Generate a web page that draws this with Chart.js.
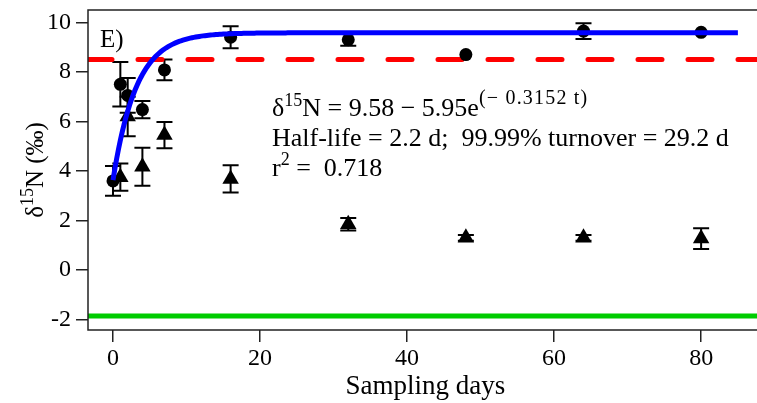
<!DOCTYPE html>
<html>
<head>
<meta charset="utf-8">
<script src="https://cdn.jsdelivr.net/npm/chart.js@4"></script>
<style>
  html, body { margin: 0; padding: 0; background: #fff; overflow: hidden; }
</style>
</head>
<body>
<canvas id="chart" width="757" height="403"></canvas>
<script>
// circles: sampling day, mean, half error bar
const circleDays = [0, 1, 2, 4, 7, 16, 32, 48, 64, 80];
const circleMean = [3.6, 7.5, 7.05, 6.48, 8.08, 9.4, 9.3, 8.7, 9.65, 9.6];
const circleErr  = [0.6, 0.9, 0.7, 0.35, 0.42, 0.44, 0.24, 0, 0.32, 0];

// triangles
const triDays = [1, 2, 4, 7, 16, 32, 48, 64, 80];
const triMean = [3.75, 6.2, 4.17, 5.45, 3.68, 1.85, 1.3, 1.3, 1.27];
const triErr  = [0.55, 0.8, 0.77, 0.53, 0.55, 0.25, 0.12, 0.12, 0.42];

// reference levels
const redLevel = 8.5;
const greenLevel = -1.85;

// fitted curve: d15N = A - B * exp(-k t)
const fitA = 9.58;
const fitB = 5.95;
const fitK = 0.3152;
const fitEnd = 85;

const xTicks = [0, 20, 40, 60, 80];
const yTicks = [-2, 0, 2, 4, 6, 8, 10];
const xMin = -3.4, xMax = 87.6;
const yMin = -2.42, yMax = 10.5;

const serif = '"Liberation Serif", "Times New Roman", serif';

const fitCurve = [];
for (let t = 0; t <= fitEnd; t += 0.25) {
  fitCurve.push({ x: t, y: fitA - fitB * Math.exp(-fitK * t) });
}

const toPoints = (xs, ys) => xs.map((x, i) => ({ x: x, y: ys[i] }));

// error bars under the points
const errorBars = {
  id: 'errorBars',
  beforeDatasetsDraw(chart) {
    const ctx = chart.ctx;
    const xs = chart.scales.x, ys = chart.scales.y;
    ctx.save();
    ctx.strokeStyle = '#000';
    ctx.lineWidth = 2;
    chart.data.datasets.forEach(ds => {
      if (!ds.err) return;
      ds.data.forEach((p, i) => {
        const e = ds.err[i];
        if (!e) return;
        const px = xs.getPixelForValue(p.x);
        const top = ys.getPixelForValue(p.y + e);
        const bot = ys.getPixelForValue(p.y - e);
        ctx.beginPath();
        ctx.moveTo(px, top); ctx.lineTo(px, bot);
        ctx.moveTo(px - 8, top); ctx.lineTo(px + 8, top);
        ctx.moveTo(px - 8, bot); ctx.lineTo(px + 8, bot);
        ctx.stroke();
      });
    });
    ctx.restore();
  }
};

function richWidth(ctx, parts) {
  let w = 0;
  parts.forEach(p => {
    ctx.font = p.size + 'px ' + serif;
    ctx.letterSpacing = (p.spacing || 0) + 'px';
    w += ctx.measureText(p.text).width;
  });
  ctx.letterSpacing = '0px';
  return w;
}

function drawRich(ctx, x, y, parts) {
  let cx = x;
  parts.forEach(p => {
    ctx.font = p.size + 'px ' + serif;
    ctx.letterSpacing = (p.spacing || 0) + 'px';
    ctx.fillText(p.text, cx, y - (p.rise || 0));
    cx += ctx.measureText(p.text).width;
  });
  ctx.letterSpacing = '0px';
}

// box, panel letter, equation text and axis titles
const decorations = {
  id: 'decorations',
  afterDraw(chart) {
    const ctx = chart.ctx;
    const a = chart.chartArea;
    ctx.save();
    ctx.strokeStyle = '#222';
    ctx.lineWidth = 1.5;
    ctx.beginPath();
    ctx.moveTo(chart.width, a.top);
    ctx.lineTo(a.left, a.top);
    ctx.lineTo(a.left, a.bottom);
    ctx.lineTo(chart.width, a.bottom);
    ctx.stroke();

    ctx.fillStyle = '#000';
    ctx.textBaseline = 'alphabetic';
    ctx.textAlign = 'left';
    ctx.font = '25px ' + serif;
    ctx.fillText('E)', a.left + 12, a.top + 37);

    const tx = 272;
    drawRich(ctx, tx, 116, [
      { text: 'δ', size: 26 },
      { text: '15', size: 18, rise: 10 },
      { text: 'N = 9.58 − 5.95e', size: 26 },
      { text: '(− 0.3152 t)', size: 20, rise: 12, spacing: 1.2 }
    ]);
    ctx.font = '26px ' + serif;
    ctx.fillText('Half-life = 2.2 d;  99.99% turnover = 29.2 d', tx, 146);
    drawRich(ctx, tx, 176, [
      { text: 'r', size: 26 },
      { text: '2', size: 18, rise: 11 },
      { text: ' =  0.718', size: 26 }
    ]);

    // x title
    ctx.textAlign = 'center';
    ctx.font = '27px ' + serif;
    ctx.fillText('Sampling days', chart.scales.x.getPixelForValue(42.5), 394);

    // y title, rotated
    const yParts = [
      { text: 'δ', size: 25 },
      { text: '15', size: 18, rise: 10 },
      { text: 'N (‰)', size: 25 }
    ];
    const w = richWidth(ctx, yParts);
    ctx.translate(43, (a.top + a.bottom) / 2);
    ctx.rotate(-Math.PI / 2);
    ctx.textAlign = 'left';
    drawRich(ctx, -w / 2, 0, yParts);
    ctx.restore();
  }
};

new Chart(document.getElementById('chart'), {
  type: 'scatter',
  data: {
    datasets: [
      {
        type: 'line',
        data: fitCurve,
        borderColor: '#0000ff',
        borderWidth: 5,
        pointRadius: 0,
        fill: false,
        order: 0
      },
      {
        data: toPoints(circleDays, circleMean),
        err: circleErr,
        pointStyle: 'circle',
        pointRadius: 6.5,
        backgroundColor: '#000',
        borderColor: '#000',
        borderWidth: 0,
        order: 1
      },
      {
        data: toPoints(triDays, triMean),
        err: triErr,
        pointStyle: 'triangle',
        pointRadius: 9.5,
        backgroundColor: '#000',
        borderColor: '#000',
        borderWidth: 0,
        order: 2
      },
      {
        type: 'line',
        data: [{ x: xMin, y: redLevel }, { x: xMax, y: redLevel }],
        borderColor: '#ff0000',
        borderWidth: 5,
        borderDash: [24, 26],
        borderCapStyle: 'round',
        pointRadius: 0,
        order: 3
      },
      {
        type: 'line',
        data: [{ x: xMin, y: greenLevel }, { x: xMax, y: greenLevel }],
        borderColor: '#00cc00',
        borderWidth: 5,
        pointRadius: 0,
        order: 4
      }
    ]
  },
  options: {
    responsive: false,
    animation: false,
    layout: { autoPadding: false, padding: { top: 10, left: 0, right: 0, bottom: 0 } },
    plugins: {
      legend: { display: false },
      tooltip: { enabled: false }
    },
    scales: {
      x: {
        type: 'linear',
        min: xMin,
        max: xMax,
        afterBuildTicks: s => { s.ticks = xTicks.map(v => ({ value: v })); },
        afterFit: s => { s.height = 73; s.paddingLeft = 0; s.paddingRight = 0; },
        grid: { drawOnChartArea: false, tickLength: 12, color: '#222', lineWidth: 1.5 },
        border: { display: false },
        ticks: { font: { family: serif, size: 24 }, color: '#000', padding: 2, maxRotation: 0 }
      },
      y: {
        min: yMin,
        max: yMax,
        afterBuildTicks: s => { s.ticks = yTicks.map(v => ({ value: v })); },
        afterFit: s => { s.width = 88; s.paddingTop = 0; s.paddingBottom = 0; },
        grid: { drawOnChartArea: false, tickLength: 12, color: '#222', lineWidth: 1.5 },
        border: { display: false },
        ticks: { font: { family: serif, size: 24 }, color: '#000', padding: 5 }
      }
    }
  },
  plugins: [errorBars, decorations]
});
</script>
</body>
</html>
